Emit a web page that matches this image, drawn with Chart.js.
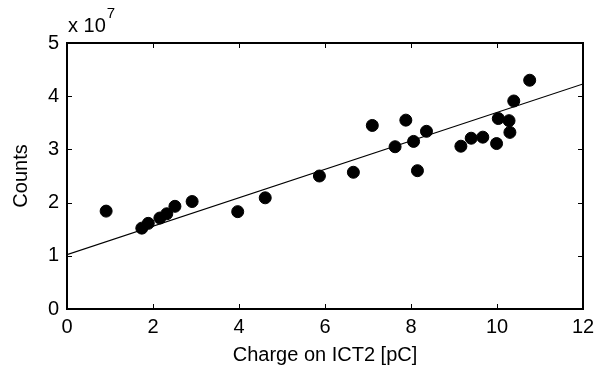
<!DOCTYPE html>
<html lang="en">
<head>
  <meta charset="UTF-8">
  <title>Counts vs Charge on ICT2</title>
  <script src="https://cdn.jsdelivr.net/npm/chart.js"></script>
  <style>
    html, body { margin: 0; padding: 0; background: #fff; }
    #wrap { width: 606px; height: 372px; }
  </style>
</head>
<body>
  <div id="wrap"><canvas id="myChart" width="606" height="372"></canvas></div>

  <script>
    // measured points (charge in pC, counts in units of 1e7)
    const chargeValues = [0.91, 1.74, 1.89, 2.16, 2.32, 2.51, 2.91, 3.97, 4.61, 5.87,
                          6.66, 7.10, 7.63, 7.88, 8.06, 8.15, 8.36, 9.16, 9.40, 9.67,
                          9.99, 10.03, 10.28, 10.30, 10.39, 10.76];
    const countValues  = [1.84, 1.52, 1.61, 1.71, 1.79, 1.93, 2.02, 1.83, 2.09, 2.50,
                          2.57, 3.45, 3.05, 3.55, 3.15, 2.60, 3.34, 3.06, 3.21, 3.23,
                          3.11, 3.58, 3.54, 3.32, 3.91, 4.30];

    // linear fit line, end points
    const fitX = [0, 12];
    const fitY = [1.02, 4.23];

    const xTicks = [0, 2, 4, 6, 8, 10, 12];
    const yTicks = [0, 1, 2, 3, 4, 5];

    const font = { family: 'Liberation Sans, Arial, sans-serif', size: 20, lineHeight: 1.15 };

    // MATLAB style box with inward ticks, plus the "x 10^7" exponent label
    const boxPlugin = {
      id: 'box',
      afterDraw(chart) {
        const { ctx, chartArea: a, scales } = chart;
        ctx.save();
        ctx.strokeStyle = '#000';
        ctx.lineWidth = 1;
        const len = 5;
        xTicks.forEach(v => {
          const px = Math.round(scales.x.getPixelForValue(v)) + 0.5;
          ctx.beginPath();
          ctx.moveTo(px, a.bottom); ctx.lineTo(px, a.bottom - len);
          ctx.moveTo(px, a.top); ctx.lineTo(px, a.top + len);
          ctx.stroke();
        });
        yTicks.forEach(v => {
          const py = Math.round(scales.y.getPixelForValue(v)) + 0.5;
          ctx.beginPath();
          ctx.moveTo(a.left, py); ctx.lineTo(a.left + len, py);
          ctx.moveTo(a.right, py); ctx.lineTo(a.right - len, py);
          ctx.stroke();
        });
        ctx.lineWidth = 2;
        ctx.strokeRect(a.left, a.top, a.right - a.left, a.bottom - a.top);

        ctx.fillStyle = '#000';
        ctx.textBaseline = 'alphabetic';
        ctx.font = '20px ' + font.family;
        ctx.fillText('x 10', 68, 32);
        const w = ctx.measureText('x 10').width;
        ctx.font = '15px ' + font.family;
        ctx.fillText('7', 68 + w + 1, 18);
        ctx.restore();
      }
    };

    const ctx = document.getElementById('myChart').getContext('2d');
    const myChart = new Chart(ctx, {
      type: 'scatter',
      data: {
        datasets: [{
          label: 'Counts',
          data: chargeValues.map((x, i) => ({ x: x, y: countValues[i] })),
          backgroundColor: '#000',
          borderColor: '#000',
          pointRadius: 6,
          pointHoverRadius: 6
        }, {
          label: 'Fit',
          type: 'line',
          data: fitX.map((x, i) => ({ x: x, y: fitY[i] })),
          borderColor: '#000',
          borderWidth: 1.2,
          pointRadius: 0,
          fill: false
        }]
      },
      options: {
        responsive: false,
        animation: false,
        layout: { padding: { top: 43, right: 23, left: 0, bottom: 0 } },
        plugins: { legend: { display: false }, tooltip: { enabled: false } },
        scales: {
          x: {
            type: 'linear',
            min: 0, max: 12,
            afterBuildTicks: s => { s.ticks = xTicks.map(v => ({ value: v })); },
            afterFit: s => { s.height = 63; },
            grid: { display: false, drawTicks: false },
            border: { display: false },
            ticks: { color: '#000', font: font, padding: 7, maxRotation: 0 },
            title: { display: true, text: 'Charge on ICT2 [pC]', color: '#000', font: font, padding: { top: 0, bottom: 5 } }
          },
          y: {
            type: 'linear',
            min: 0, max: 5,
            afterBuildTicks: s => { s.ticks = yTicks.map(v => ({ value: v })); },
            afterFit: s => { s.width = 67; },
            grid: { display: false, drawTicks: false },
            border: { display: false },
            ticks: { color: '#000', font: font, padding: 8 },
            title: { display: true, text: 'Counts', color: '#000', font: font, padding: { top: 10, bottom: 0 } }
          }
        }
      },
      plugins: [boxPlugin]
    });
  </script>
</body>
</html>
